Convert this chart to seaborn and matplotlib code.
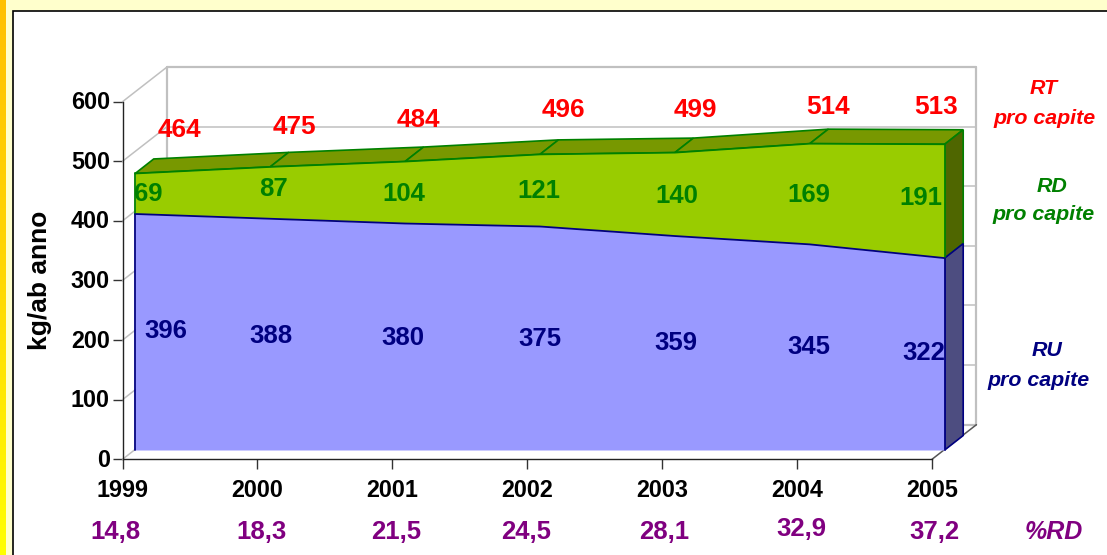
import numpy as np
import pandas as pd
import matplotlib
matplotlib.use("Agg")
import matplotlib.pyplot as plt
from matplotlib.patches import Rectangle, Polygon
from matplotlib.transforms import ScaledTranslation
import seaborn as sns

years = [1999, 2000, 2001, 2002, 2003, 2004, 2005]
rt_values = [464, 475, 484, 496, 499, 514, 513]
rd_values = [69, 87, 104, 121, 140, 169, 191]
ru_values = [396, 388, 380, 375, 359, 345, 322]
pct_rd = ["14,8", "18,3", "21,5", "24,5", "28,1", "32,9", "37,2"]

W, H = 1107, 555
sns.set_theme(style="white")
plt.rcParams["font.family"] = ["Liberation Sans", "DejaVu Sans"]
plt.rcParams["font.weight"] = "bold"

fig = plt.figure(figsize=(W / 100, H / 100), dpi=100, facecolor="#FFFFCC")
X0, X1, Y0, Y1 = 122.5, 932.0, 459.3, 101.7
ax = fig.add_axes([X0 / W, 1 - Y0 / H, (X1 - X0) / W, (Y0 - Y1) / H])
ax.set_xlim(1999, 2005)
ax.set_ylim(0, 600)
ax.patch.set_alpha(0)
sx = (X1 - X0) / 6
sy = (Y0 - Y1) / 600


def off(xs, ys, dx, dy):
    """Shift data positions by a pixel depth offset (dy > 0 is upward)."""
    return np.asarray(xs, float) + dx / sx, np.asarray(ys, float) + dy / sy


def fx(px):
    return px / W


def fy(py):
    return 1 - py / H


# page: yellow ground, gradient stripe, white framed panel (open right and bottom)
fig.add_artist(Rectangle((fx(12.5), -0.05), 1, fy(10.5) + 0.05, transform=fig.transFigure,
                         fc="white", ec="black", lw=1.2, zorder=-5))
grad = np.linspace(0, 1, 256)[:, None]
stripe_cmap = matplotlib.colors.LinearSegmentedColormap.from_list(
    "st", ["#FFC000", "#FFD800", "#FFFF00"])
sax = fig.add_axes([0, 0, 6 / W, 1], zorder=-4)
sax.imshow(grad, aspect="auto", cmap=stripe_cmap)
sax.axis("off")

# back walls and floor
GRID = "#C0C0C0"
BX, BY = 44.4, 34.6
levels = [0, 100, 200, 300, 400, 500, 600]
for lv in levels:
    bx, by = off([1999, 2005], [lv, lv], BX, BY)
    ax.plot(bx, by, color=GRID, lw=1.1 if lv not in (0, 600) else 1.6,
            clip_on=False, zorder=1)
    ex, ey = off([1999], [lv], BX, BY)
    ax.plot([1999, ex[0]], [lv, ey[0]], color=GRID, lw=1.1, clip_on=False, zorder=1)
for xv in (1999, 2005):
    bx, by = off([xv, xv], [0, 600], BX, BY)
    ax.plot(bx, by, color=GRID, lw=1.6, clip_on=False, zorder=1)
ex, ey = off([2005], [0], BX, BY)
ax.plot([2005, ex[0]], [0, ey[0]], color="#555555", lw=1.1, clip_on=False, zorder=1)

# stacked ribbon
SX, SY = 12.7, 9.3
DX, DY = 18.5, 14.5
GREEN, GREEN_E = "#99CC00", "#008000"
BLUE, BLUE_E = "#9999FF", "#000080"

xs, rt_f = off(years, rt_values, SX, SY)
_, ru_f = off(years, ru_values, SX, SY)
_, base_f = off(years, [0] * 7, SX, SY)
xb, rt_b = off(years, rt_values, SX + DX, SY + DY)
_, ru_b = off(years, ru_values, SX + DX, SY + DY)
_, base_b = off(years, [0] * 7, SX + DX, SY + DY)

# top faces of the green band
for i in range(6):
    ax.add_patch(Polygon([(xs[i], rt_f[i]), (xs[i + 1], rt_f[i + 1]),
                          (xb[i + 1], rt_b[i + 1]), (xb[i], rt_b[i])],
                         closed=True, fc="#789800", ec=GREEN_E, lw=1.2,
                         clip_on=False, zorder=2))
# right side faces
ax.add_patch(Polygon([(xs[-1], rt_f[-1]), (xb[-1], rt_b[-1]),
                      (xb[-1], ru_b[-1]), (xs[-1], ru_f[-1])],
                     closed=True, fc="#4F6600", ec=GREEN_E, lw=1.2, clip_on=False, zorder=2))
ax.add_patch(Polygon([(xs[-1], ru_f[-1]), (xb[-1], ru_b[-1]),
                      (xb[-1], base_b[-1]), (xs[-1], base_f[-1])],
                     closed=True, fc="#4D4D80", ec=BLUE_E, lw=1.2, clip_on=False, zorder=2))
# front faces
ax.fill_between(xs, ru_f, rt_f, color=GREEN, lw=0, clip_on=False, zorder=3)
ax.fill_between(xs, base_f, ru_f, color=BLUE, lw=0, clip_on=False, zorder=3)

tidy = pd.DataFrame({
    "x": list(xs) * 2,
    "y": list(rt_f) + list(ru_f),
    "serie": ["RT"] * 7 + ["RU"] * 7,
})
sns.lineplot(data=tidy, x="x", y="y", hue="serie", palette={"RT": GREEN_E, "RU": BLUE_E},
             lw=1.3, legend=False, ax=ax, clip_on=False, zorder=4, errorbar=None)
for xv, lo, hi, c in [(xs[0], ru_f[0], rt_f[0], GREEN_E), (xs[0], base_f[0], ru_f[0], BLUE_E),
                      (xs[-1], ru_f[-1], rt_f[-1], GREEN_E), (xs[-1], base_f[-1], ru_f[-1], BLUE_E)]:
    ax.plot([xv, xv], [lo, hi], color=c, lw=1.3, clip_on=False, zorder=4)

# axes
sns.despine(ax=ax)
for s in ("left", "bottom"):
    ax.spines[s].set_color("#222222")
    ax.spines[s].set_linewidth(1.0)
ax.set_xticks(years)
ax.set_xticklabels([str(y) for y in years])
ax.set_yticks(levels)
ax.set_xlabel("")
ax.set_ylabel("")
ax.tick_params(axis="both", length=7, width=1.0, color="#333333", labelcolor="black",
               labelsize=16.8, left=True, bottom=True)
ax.tick_params(axis="x", pad=7)
ax.tick_params(axis="y", pad=2)
nudge = ScaledTranslation(0, 1.5 / 100, fig.dpi_scale_trans)
for lab in ax.get_yticklabels():
    lab.set_transform(lab.get_transform() + nudge)

fig.text(fx(40), fy(280), "kg/ab anno", rotation=90, ha="center", va="center",
         fontsize=19, color="black", fontweight="bold")

# value labels
RED, DGREEN, NAVY, PURPLE = "#FF0000", "#008000", "#000080", "#800080"
rt_pos = [(179, 130), (294, 127), (418, 120), (563, 110), (695, 110), (828, 107), (936, 107)]
rd_pos = [(148, 194), (274, 189), (404, 194), (539, 191), (677, 196), (809, 195), (921, 198)]
ru_pos = [(166, 331), (271, 336), (403, 338), (540, 339), (676, 343), (809, 347), (924, 353)]
pct_pos = [(115, 532), (261, 532), (396, 532), (526, 532), (664, 532), (801, 529), (934, 532)]
for vals, pos, col, fs in [(rt_values, rt_pos, RED, 18.8), (rd_values, rd_pos, DGREEN, 18.5),
                           (ru_values, ru_pos, NAVY, 18.5), (pct_rd, pct_pos, PURPLE, 18.5)]:
    for v, (px, py) in zip(vals, pos):
        fig.text(fx(px), fy(py), str(v), color=col, fontsize=fs, ha="center",
                 va="center", fontweight="bold", zorder=10)

# series captions
caps = [("RT", 1044, 89, RED), ("pro capite", 1045, 118, RED),
        ("RD", 1052, 186, DGREEN), ("pro capite", 1044, 215, DGREEN),
        ("RU", 1047, 351, NAVY), ("pro capite", 1039, 380, NAVY),
        ("%RD", 1054, 532, PURPLE)]
for txt, px, py, col in caps:
    fs = 18 if txt == "%RD" else 15.4
    fig.text(fx(px), fy(py), txt, color=col, fontsize=fs, style="italic", ha="center",
             va="center", fontweight="bold")

fig.savefig("out.png", dpi=100, facecolor=fig.get_facecolor())
